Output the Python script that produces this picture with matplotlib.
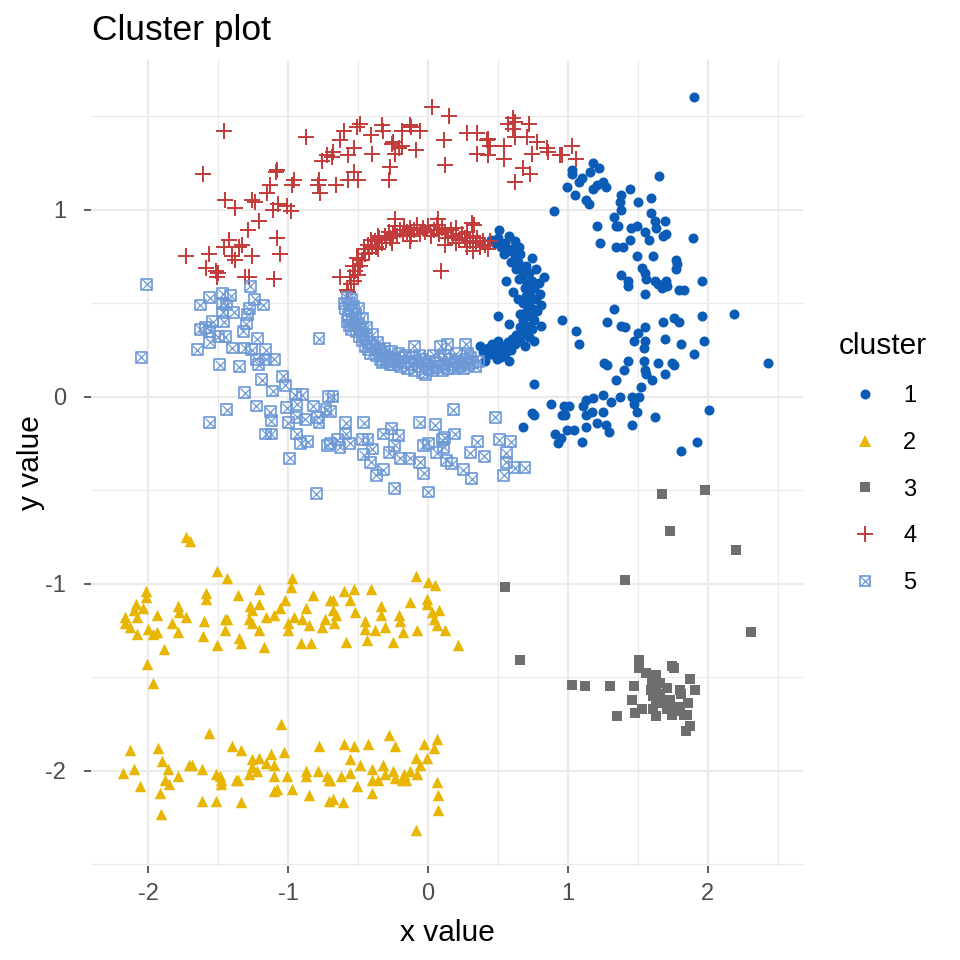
import numpy as np
import matplotlib.pyplot as plt
from matplotlib.lines import Line2D

plt.rcParams['font.family'] = ['Liberation Sans', 'DejaVu Sans']
plt.rcParams['axes.unicode_minus'] = False

cluster_ids = ['1', '2', '3', '4', '5']
colors = ['#0B5CB6', '#E8B500', '#6E6E6E', '#C23B3A', '#6C98D6']

# cluster 1: outer ring (right) + inner ring (right)
c1_pts = [
    (1.90, 1.60), (1.03, 1.21), (1.03, 1.19), (0.99, 1.12), (1.05, 1.08), (1.18, 1.25), (1.22, 1.22),
    (1.16, 1.20), (1.10, 1.17), (1.08, 1.15), (1.25, 1.15), (1.21, 1.13), (1.18, 1.11), (1.27, 1.12),
    (1.13, 1.05), (1.15, 1.03), (1.65, 1.18), (1.44, 1.11), (1.38, 1.08), (1.37, 1.04), (1.38, 1.00),
    (1.33, 0.96), (1.50, 1.04), (1.59, 1.06), (1.59, 0.98), (1.62, 0.94), (1.63, 0.90), (1.69, 0.94),
    (1.21, 0.91), (1.34, 0.91), (1.36, 0.91), (1.45, 0.90), (1.49, 0.91), (1.55, 0.88), (1.68, 0.86),
    (1.70, 0.87), (1.58, 0.84), (1.44, 0.84), (1.89, 0.85), (1.23, 0.82), (1.34, 0.80), (1.39, 0.80),
    (1.49, 0.75), (1.61, 0.75), (1.77, 0.73), (1.78, 0.71), (1.77, 0.68), (1.53, 0.69), (1.55, 0.66),
    (1.38, 0.65), (1.56, 0.63), (1.62, 0.62), (1.70, 0.62), (1.43, 0.62), (1.96, 0.62), (1.43, 0.59),
    (1.55, 0.55), (1.64, 0.60), (1.67, 0.58), (1.71, 0.59), (1.79, 0.57), (1.83, 0.57), (2.19, 0.44),
    (1.96, 0.43), (1.97, 0.30), (1.76, 0.42), (1.79, 0.40), (1.68, 0.40), (1.69, 0.31), (1.81, 0.28),
    (1.90, 0.23), (1.33, 0.47), (1.28, 0.40), (1.38, 0.38), (1.41, 0.37), (1.50, 0.34), (1.55, 0.37),
    (1.47, 0.30), (1.55, 0.30), (1.54, 0.26), (0.96, 0.41), (1.06, 0.35), (1.08, 0.28), (1.26, 0.18),
    (1.28, 0.17), (1.40, 0.14), (1.43, 0.19), (1.34, 0.09), (1.54, 0.19), (1.55, 0.14), (1.56, 0.12),
    (1.60, 0.09), (1.64, 0.18), (1.74, 0.18), (1.76, 0.17), (1.69, 0.12), (2.43, 0.18), (1.52, 0.05),
    (1.46, 0.00), (1.51, 0.00), (1.47, -0.04), (1.49, -0.08), (1.46, -0.15), (1.62, -0.11), (1.37, 0.00),
    (1.25, 0.01), (1.31, -0.03), (1.18, -0.01), (1.13, -0.02), (1.11, -0.05), (1.01, -0.05), (0.96, -0.10),
    (1.13, -0.10), (1.17, -0.08), (1.25, -0.08), (1.13, -0.16), (1.21, -0.14), (1.27, -0.15), (1.29, -0.19),
    (0.99, -0.18), (1.04, -0.18), (0.95, -0.22), (1.10, -0.24), (2.01, -0.07), (1.92, -0.24), (1.81, -0.29),
    (0.76, 0.07), (0.88, -0.04), (0.97, -0.05), (0.74, -0.09), (0.76, -0.10), (0.68, -0.16), (0.98, -0.10),
    (0.91, -0.20), (0.93, -0.25), (0.50, 0.43), (0.90, 0.99),
    (0.45, 0.84), (0.48, 0.82), (0.50, 0.85), (0.52, 0.80), (0.55, 0.82), (0.57, 0.78), (0.54, 0.76),
    (0.60, 0.79), (0.62, 0.75), (0.59, 0.72), (0.64, 0.72), (0.66, 0.76), (0.67, 0.69), (0.63, 0.68),
    (0.70, 0.70), (0.68, 0.65), (0.72, 0.66), (0.65, 0.63), (0.71, 0.61), (0.74, 0.62), (0.69, 0.58),
    (0.73, 0.57), (0.76, 0.58), (0.70, 0.54), (0.74, 0.53), (0.77, 0.52), (0.68, 0.50), (0.72, 0.49),
    (0.75, 0.47), (0.78, 0.46), (0.70, 0.45), (0.73, 0.43), (0.76, 0.41), (0.68, 0.41), (0.71, 0.38),
    (0.74, 0.36), (0.66, 0.37), (0.69, 0.34), (0.72, 0.32), (0.63, 0.33), (0.66, 0.30), (0.60, 0.31),
    (0.62, 0.28), (0.57, 0.29), (0.59, 0.25), (0.54, 0.27), (0.55, 0.23), (0.51, 0.26), (0.52, 0.21),
    (0.48, 0.24), (0.49, 0.20), (0.45, 0.23), (0.46, 0.28), (0.42, 0.22), (0.43, 0.26), (0.39, 0.24),
    (0.37, 0.27), (0.41, 0.19), (0.80, 0.55), (0.81, 0.49), (0.79, 0.61), (0.77, 0.68), (0.62, 0.83),
    (0.58, 0.86), (0.51, 0.89), (0.56, 0.62), (0.61, 0.56), (0.64, 0.52), (0.66, 0.44), (0.58, 0.39),
    (0.65, 0.80), (0.74, 0.74), (0.76, 0.30), (0.81, 0.38), (0.69, 0.27), (0.83, 0.64), (0.58, 0.19),
    (0.50, 0.30),
]

# cluster 2: two horizontal bands
c2_pts = [
    (-1.73, -0.75), (-1.70, -0.77), (-1.51, -0.93), (-1.44, -0.97), (-0.97, -0.97), (-0.98, -1.02),
    (-1.21, -1.03), (-1.36, -1.06), (-2.02, -1.04), (-2.02, -1.07), (-2.09, -1.11), (-2.04, -1.13),
    (-2.10, -1.14), (-2.17, -1.18), (-2.17, -1.21), (-2.13, -1.23), (-2.08, -1.18), (-2.08, -1.27),
    (-1.94, -1.17), (-2.00, -1.24), (-1.97, -1.27), (-1.94, -1.26), (-1.89, -1.35), (-2.01, -1.43),
    (-1.97, -1.53), (-1.79, -1.12), (-1.78, -1.15), (-1.73, -1.18), (-1.83, -1.21), (-1.79, -1.26),
    (-1.59, -1.05), (-1.59, -1.08), (-1.60, -1.20), (-1.61, -1.28), (-1.51, -1.33), (-1.45, -1.19),
    (-1.44, -1.19), (-1.45, -1.25), (-1.35, -1.29), (-1.34, -1.32), (-1.27, -1.12), (-1.26, -1.14),
    (-1.21, -1.11), (-1.28, -1.19), (-1.26, -1.21), (-1.21, -1.25), (-1.16, -1.18), (-1.17, -1.34),
    (-1.10, -1.17), (-1.06, -1.13), (-1.02, -1.09), (-1.00, -1.21), (-1.00, -1.25), (-0.96, -1.18),
    (-0.91, -1.32), (-0.84, -1.32), (-0.87, -1.13), (-0.90, -1.19), (-0.85, -1.22), (-0.82, -1.06),
    (-0.76, -1.23), (-0.74, -1.19), (-0.70, -1.09), (-0.09, -0.96), (0.00, -0.99), (0.05, -1.01),
    (-0.68, -1.09), (-0.60, -1.04), (-0.53, -1.03), (-0.56, -1.09), (-0.41, -1.03), (-0.68, -1.14),
    (-0.66, -1.17), (-0.67, -1.21), (-0.52, -1.15), (-0.34, -1.12), (-0.34, -1.17), (-0.45, -1.20),
    (-0.45, -1.24), (-0.38, -1.25), (-0.31, -1.23), (-0.44, -1.30), (-0.59, -1.31), (-0.25, -1.31),
    (-0.21, -1.17), (-0.20, -1.20), (-0.18, -1.26), (-0.13, -1.10), (-0.08, -1.25), (-0.01, -1.08),
    (-0.01, -1.11), (0.03, -1.15), (0.08, -1.14), (0.04, -1.19), (0.06, -1.22), (0.12, -1.25),
    (0.21, -1.33),
    (-2.13, -1.89), (-2.18, -2.01), (-2.10, -1.99), (-2.06, -2.08), (-1.93, -1.88), (-1.90, -1.95),
    (-1.86, -1.99), (-1.88, -2.05), (-1.85, -2.07), (-1.92, -2.12), (-1.91, -2.23), (-1.79, -2.03),
    (-1.71, -1.97), (-1.69, -1.97), (-1.62, -1.99), (-1.62, -2.16), (-1.57, -1.80), (-1.52, -2.16),
    (-1.52, -2.02), (-1.49, -2.03), (-1.48, -2.07), (-1.48, -2.05), (-1.40, -1.87), (-1.34, -1.89),
    (-1.37, -2.05), (-1.36, -2.05), (-1.34, -2.17), (-1.28, -2.02), (-1.26, -1.98), (-1.26, -1.94),
    (-1.21, -1.93), (-1.22, -2.00), (-1.16, -1.96), (-1.12, -1.91), (-1.10, -1.97), (-1.10, -2.03),
    (-1.10, -2.11), (-1.08, -2.10), (-1.05, -1.75), (-1.03, -1.90), (-1.01, -2.03), (-0.97, -2.10),
    (-0.87, -2.00), (-0.87, -2.03), (-0.85, -2.13), (-0.79, -2.00), (-0.78, -1.87), (-0.72, -2.03),
    (-0.71, -2.05), (-0.71, -2.16), (-0.70, -2.05), (-0.62, -2.03), (-0.68, -2.15), (-0.61, -2.17),
    (-0.60, -1.86), (-0.53, -1.87), (-0.56, -1.94), (-0.56, -2.01), (-0.49, -1.97), (-0.43, -1.86),
    (-0.51, -2.08), (-0.40, -1.99), (-0.40, -2.05), (-0.40, -2.12), (-0.36, -2.05), (-0.32, -1.97),
    (-0.31, -2.02), (-0.28, -1.81), (-0.24, -1.87), (-0.25, -2.00), (-0.24, -2.04), (-0.19, -2.05),
    (-0.17, -2.02), (-0.16, -2.05), (-0.09, -1.93), (-0.08, -2.02), (-0.06, -1.97), (-0.03, -1.86),
    (-0.01, -1.93), (0.04, -1.88), (0.06, -1.83), (0.06, -2.06), (0.07, -2.13), (0.07, -2.21),
    (-0.09, -2.32), (-0.13, -2.00),
]

# cluster 3: compact group + scattered noise
c3_pts = [
    (1.67, -0.52), (1.98, -0.50), (1.73, -0.72), (2.20, -0.82), (1.41, -0.98), (0.55, -1.02),
    (2.31, -1.26), (0.66, -1.41), (1.03, -1.54), (1.12, -1.55), (1.30, -1.55), (1.35, -1.71),
    (1.47, -1.55), (1.46, -1.62), (1.48, -1.69), (1.53, -1.67), (1.51, -1.41), (1.51, -1.45),
    (1.56, -1.48), (1.63, -1.49), (1.74, -1.44), (1.76, -1.45), (1.87, -1.51), (1.91, -1.57),
    (1.80, -1.57), (1.81, -1.59), (1.59, -1.57), (1.63, -1.54), (1.71, -1.56), (1.61, -1.60),
    (1.66, -1.59), (1.63, -1.64), (1.68, -1.64), (1.73, -1.62), (1.63, -1.71), (1.71, -1.67),
    (1.75, -1.67), (1.80, -1.66), (1.86, -1.64), (1.85, -1.70), (1.87, -1.76), (1.84, -1.79),
    (1.78, -1.67), (1.67, -1.62), (1.60, -1.53), (1.66, -1.53), (1.74, -1.70), (1.80, -1.68),
    (1.61, -1.67), (1.83, -1.70),
]

# cluster 4: outer ring (top-left) + inner ring (top)
c4_pts = [
    (-1.46, 1.42), (-0.87, 1.39), (-1.61, 1.19), (-0.76, 1.26), (-0.72, 1.29), (-1.08, 1.21),
    (-1.09, 1.20), (-0.96, 1.16), (-1.13, 1.13), (-1.15, 1.09), (-0.97, 1.13), (-0.78, 1.16),
    (-0.79, 1.13), (-0.77, 1.09), (-1.45, 1.05), (-1.38, 1.01), (-1.26, 1.05), (-1.24, 1.04),
    (-1.07, 1.03), (-1.01, 1.02), (-0.98, 0.99), (-1.11, 1.00), (-1.21, 0.94), (-1.29, 0.89),
    (-1.08, 0.85), (-1.42, 0.84), (-1.46, 0.80), (-1.35, 0.80), (-1.33, 0.81), (-1.26, 0.75),
    (-1.40, 0.75), (-1.38, 0.73), (-1.06, 0.76), (-1.73, 0.75), (-1.57, 0.76), (-1.59, 0.69),
    (-1.52, 0.67), (-1.51, 0.64), (-1.50, 0.66), (-1.31, 0.64), (-1.28, 0.64), (-1.10, 0.63),
    (0.03, 1.55), (0.15, 1.50), (-0.49, 1.46), (-0.51, 1.44), (-0.60, 1.42), (-0.41, 1.40),
    (-0.33, 1.45), (-0.32, 1.42), (-0.13, 1.45), (-0.12, 1.44), (-0.06, 1.42), (-0.19, 1.42),
    (-0.63, 1.37), (-0.68, 1.31), (-0.69, 1.28), (-0.53, 1.33), (-0.57, 1.29), (-0.40, 1.30),
    (-0.26, 1.35), (-0.25, 1.36), (-0.21, 1.33), (-0.19, 1.34), (-0.24, 1.30), (-0.09, 1.32),
    (0.11, 1.37), (0.12, 1.24), (-0.27, 1.23), (-0.28, 1.16), (-0.53, 1.20), (-0.57, 1.16),
    (-0.50, 1.16), (-0.66, 1.13), (0.28, 1.41), (0.35, 1.41), (0.42, 1.37), (0.43, 1.38),
    (0.44, 1.34), (0.35, 1.30), (0.43, 1.29), (0.54, 1.34), (0.54, 1.27), (0.57, 1.46),
    (0.61, 1.49), (0.62, 1.47), (0.61, 1.43), (0.72, 1.46), (0.62, 1.39), (0.71, 1.39),
    (0.78, 1.36), (0.85, 1.33), (0.86, 1.31), (0.74, 1.30), (0.94, 1.29), (0.68, 1.22),
    (0.73, 1.19), (0.62, 1.15), (1.03, 1.34), (1.06, 1.27), (0.96, 1.29),
    (-0.57, 0.56), (-0.55, 0.60), (-0.56, 0.64), (-0.53, 0.62), (-0.52, 0.67), (-0.50, 0.65),
    (-0.54, 0.70), (-0.49, 0.70), (-0.47, 0.73), (-0.50, 0.74), (-0.45, 0.76), (-0.46, 0.79),
    (-0.42, 0.77), (-0.43, 0.81), (-0.40, 0.80), (-0.38, 0.83), (-0.41, 0.84), (-0.36, 0.79),
    (-0.35, 0.85), (-0.33, 0.82), (-0.31, 0.86), (-0.30, 0.84), (-0.28, 0.88), (-0.27, 0.85),
    (-0.25, 0.87), (-0.24, 0.91), (-0.22, 0.86), (-0.20, 0.89), (-0.18, 0.87), (-0.17, 0.91),
    (-0.15, 0.88), (-0.13, 0.90), (-0.12, 0.86), (-0.10, 0.89), (-0.08, 0.92), (-0.06, 0.87),
    (-0.04, 0.90), (-0.02, 0.88), (0.00, 0.91), (0.02, 0.86), (0.04, 0.89), (0.06, 0.92),
    (0.08, 0.87), (0.10, 0.90), (0.12, 0.88), (0.14, 0.85), (0.16, 0.89), (0.18, 0.86),
    (0.20, 0.90), (0.22, 0.84), (0.24, 0.87), (0.26, 0.85), (0.28, 0.88), (0.30, 0.83),
    (0.32, 0.86), (0.34, 0.82), (0.35, 0.85), (0.37, 0.80), (0.39, 0.83), (0.41, 0.81),
    (0.43, 0.79), (0.44, 0.83), (-0.24, 0.95), (0.07, 0.95), (0.31, 0.93), (0.33, 0.92),
    (0.09, 0.67), (0.12, 0.81), (0.32, 0.78), (-0.13, 0.83), (-0.37, 0.80), (-0.51, 0.74),
    (-0.63, 0.64), (-0.58, 0.57), (-0.36, 0.86), (-0.26, 0.82), (0.20, 0.82), (0.28, 0.80),
]

# cluster 5: outer ring (bottom-left) + inner ring (bottom)
c5_pts = [
    (-2.01, 0.60), (-2.05, 0.21), (-1.63, 0.49), (-1.56, 0.53), (-1.47, 0.55), (-1.41, 0.54),
    (-1.47, 0.50), (-1.44, 0.49), (-1.47, 0.45), (-1.39, 0.45), (-1.46, 0.40), (-1.54, 0.40),
    (-1.59, 0.37), (-1.63, 0.36), (-1.56, 0.35), (-1.50, 0.32), (-1.45, 0.32), (-1.56, 0.29),
    (-1.65, 0.25), (-1.49, 0.17), (-1.35, 0.16), (-1.40, 0.26), (-1.27, 0.59), (-1.24, 0.52),
    (-1.18, 0.49), (-1.28, 0.47), (-1.29, 0.44), (-1.30, 0.39), (-1.32, 0.35), (-1.22, 0.31),
    (-1.31, 0.26), (-1.26, 0.25), (-1.23, 0.20), (-1.21, 0.17), (-1.16, 0.25), (-1.16, 0.20),
    (-1.10, 0.20), (-1.19, 0.09), (-1.11, 0.03), (-1.04, 0.11), (-1.02, 0.06), (-1.31, 0.02),
    (-1.23, -0.05), (-1.44, -0.07), (-1.56, -0.14), (-1.13, -0.08), (-1.12, -0.13), (-1.16, -0.20),
    (-1.12, -0.20), (-1.01, -0.06), (-1.00, -0.14), (-0.95, 0.01), (-0.90, 0.01), (-0.94, -0.04),
    (-0.94, -0.11), (-0.88, -0.12), (-0.82, -0.05), (-0.79, -0.11), (-0.78, -0.14), (-0.94, -0.20),
    (-0.86, -0.24), (-0.91, -0.25), (-0.99, -0.33), (-0.78, 0.31), (-0.73, -0.07), (-0.72, -0.26),
    (-0.71, 0.00), (-0.68, 0.00), (-0.70, -0.08), (-0.59, -0.14), (-0.46, -0.14), (-0.59, -0.20),
    (-0.65, -0.23), (-0.56, -0.25), (-0.47, -0.23), (-0.43, -0.23), (-0.40, -0.28), (-0.46, -0.31),
    (-0.41, -0.35), (-0.37, -0.42), (-0.32, -0.20), (-0.26, -0.17), (-0.21, -0.21), (-0.24, -0.26),
    (-0.28, -0.30), (-0.20, -0.33), (-0.32, -0.39), (-0.13, -0.33), (-0.06, -0.14), (-0.06, -0.35),
    (-0.03, -0.41), (-0.03, -0.26), (0.00, -0.25), (0.05, -0.15), (0.06, -0.30), (0.10, -0.23),
    (0.11, -0.27), (0.12, -0.22), (0.13, -0.34), (0.17, -0.36), (0.19, -0.20), (0.18, -0.07),
    (0.25, -0.39), (0.30, -0.30), (0.31, -0.44), (0.35, -0.24), (0.40, -0.32), (0.48, -0.11),
    (0.51, -0.23), (0.59, -0.24), (0.56, -0.30), (0.56, -0.35), (0.62, -0.38), (0.69, -0.38),
    (0.54, -0.42), (-0.70, -0.25), (-0.80, -0.52), (-0.24, -0.49), (0.00, -0.51), (-0.63, -0.27),
    (-0.58, 0.53), (-0.56, 0.50), (-0.59, 0.47), (-0.55, 0.46), (-0.57, 0.43), (-0.54, 0.41),
    (-0.58, 0.40), (-0.52, 0.44), (-0.53, 0.38), (-0.55, 0.36), (-0.50, 0.39), (-0.51, 0.35),
    (-0.48, 0.36), (-0.49, 0.32), (-0.46, 0.33), (-0.47, 0.30), (-0.44, 0.31), (-0.45, 0.27),
    (-0.42, 0.29), (-0.43, 0.25), (-0.40, 0.27), (-0.41, 0.23), (-0.38, 0.25), (-0.37, 0.22),
    (-0.35, 0.24), (-0.34, 0.20), (-0.33, 0.18), (-0.31, 0.22), (-0.30, 0.19), (-0.28, 0.21),
    (-0.27, 0.17), (-0.25, 0.20), (-0.24, 0.17), (-0.22, 0.19), (-0.20, 0.16), (-0.19, 0.21),
    (-0.17, 0.18), (-0.15, 0.15), (-0.14, 0.19), (-0.12, 0.17), (-0.10, 0.14), (-0.09, 0.19),
    (-0.07, 0.16), (-0.05, 0.20), (-0.04, 0.13), (-0.02, 0.17), (0.00, 0.15), (0.01, 0.19),
    (0.03, 0.14), (0.05, 0.18), (0.07, 0.16), (0.09, 0.20), (0.10, 0.14), (0.12, 0.17),
    (0.14, 0.15), (0.15, 0.20), (0.17, 0.17), (0.19, 0.15), (0.20, 0.19), (0.22, 0.16),
    (0.24, 0.18), (0.25, 0.15), (0.27, 0.20), (0.29, 0.17), (0.30, 0.21), (0.32, 0.18),
    (0.34, 0.16), (0.36, 0.19), (0.14, 0.28), (0.09, 0.27), (0.27, 0.28), (-0.10, 0.27),
    (-0.02, 0.12), (-0.55, 0.52), (-0.53, 0.48), (-0.50, 0.47), (-0.47, 0.42), (-0.44, 0.37),
    (-0.40, 0.33), (-0.36, 0.29), (-0.31, 0.26), (-0.26, 0.24), (-0.21, 0.23), (-0.16, 0.22),
    (-0.11, 0.21), (-0.06, 0.22), (0.04, 0.22), (0.12, 0.22), (0.20, 0.23), (0.28, 0.23),
    (-0.56, 0.38), (-0.60, 0.50), (-0.35, 0.25),
]

x_ticks = [-2, -1, 0, 1, 2]
y_ticks = [-2, -1, 0, 1]

fig = plt.figure(figsize=(9.6, 9.6), dpi=100)
ax = fig.add_axes([0.0948, 0.0979, 0.7417, 0.8396])

c1 = np.array(c1_pts)
c2 = np.array(c2_pts)
c3 = np.array(c3_pts)
c4 = np.array(c4_pts)
c5 = np.array(c5_pts)

ax.scatter(c1[:, 0], c1[:, 1], marker='o', s=52, color=colors[0], linewidths=0, zorder=3)
ax.scatter(c2[:, 0], c2[:, 1], marker='^', s=68, color=colors[1], linewidths=0, zorder=3)
ax.scatter(c3[:, 0], c3[:, 1], marker='s', s=52, color=colors[2], linewidths=0, zorder=3)
ax.scatter(c4[:, 0], c4[:, 1], marker='+', s=121, color=colors[3], linewidths=1.4, zorder=3)
ax.scatter(c5[:, 0], c5[:, 1], marker='s', s=62, facecolors='none', edgecolors=colors[4],
           linewidths=1.2, zorder=3)
ax.scatter(c5[:, 0], c5[:, 1], marker='x', s=50, color=colors[4], linewidths=0.9, zorder=3)

ax.set_xlim(-2.41, 2.68)
ax.set_ylim(-2.51, 1.80)
ax.set_xticks(x_ticks)
ax.set_xticklabels([str(v) for v in x_ticks])
ax.set_yticks(y_ticks)
ax.set_yticklabels([str(v) for v in y_ticks])
ax.set_xticks([-1.5, -0.5, 0.5, 1.5, 2.5], minor=True)
ax.set_yticks([-2.5, -1.5, -0.5, 0.5, 1.5], minor=True)
ax.tick_params(which='major', labelsize=17, labelcolor='#4D4D4D', color='#333333',
               length=5, width=1.1)
ax.tick_params(axis='x', which='major', pad=7)
ax.tick_params(axis='y', which='major', pad=13)
ax.tick_params(which='minor', length=0)
for sp in ax.spines.values():
    sp.set_visible(False)
ax.grid(which='major', color='#EBEBEB', linewidth=1.6)
ax.grid(which='minor', color='#EBEBEB', linewidth=0.8)
ax.set_axisbelow(True)

fig.text(92 / 960, 1 - 40 / 960, 'Cluster plot', fontsize=25.5, ha='left', va='baseline')
fig.text(447 / 960, 1 - 941 / 960, 'x value', fontsize=21.5, ha='center', va='baseline')
fig.text(31 / 960, 1 - 463 / 960, 'y value', fontsize=21.5, ha='center', va='center', rotation=90)

handles = [
    Line2D([], [], marker='o', ls='', color=colors[0], markersize=7.2, markeredgewidth=0),
    Line2D([], [], marker='^', ls='', color=colors[1], markersize=8.2, markeredgewidth=0),
    Line2D([], [], marker='s', ls='', color=colors[2], markersize=7.2, markeredgewidth=0),
    Line2D([], [], marker='+', ls='', color=colors[3], markersize=11, markeredgewidth=1.4),
    (Line2D([], [], marker='s', ls='', markerfacecolor='none', markeredgecolor=colors[4],
            markersize=7.9, markeredgewidth=1.2),
     Line2D([], [], marker='x', ls='', color=colors[4], markersize=7.0, markeredgewidth=0.9)),
]
leg = fig.legend(handles, cluster_ids, title='cluster', loc='upper left',
                 bbox_to_anchor=(818 / 960, 1 - 311 / 960), frameon=False, fontsize=17,
                 title_fontsize=21.5, handlelength=2.2, handletextpad=0.5, labelspacing=1.05,
                 alignment='left', borderpad=0.4)

fig.savefig('out.png', dpi=100)
